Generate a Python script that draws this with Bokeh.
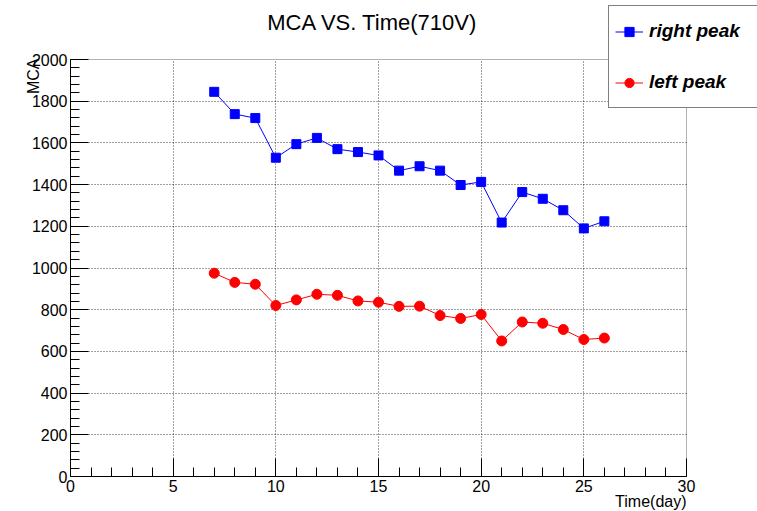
import math
from bokeh.plotting import figure
from bokeh.models import (ColumnDataSource, SingleIntervalTicker, Legend, LegendItem,
                          Label, Range1d, LinearAxis, Grid, BoxAnnotation)
from bokeh.embed import file_html
from bokeh.resources import INLINE

# ---- data ----
days = [7, 8, 9, 10, 11, 12, 13, 14, 15, 16, 17, 18, 19, 20, 21, 22, 23, 24, 25, 26]
right_peak = [1845, 1738, 1719, 1529, 1594, 1624, 1570, 1556, 1540, 1467,
              1488, 1467, 1398, 1413, 1218, 1364, 1332, 1277, 1190, 1224]
left_peak = [975, 931, 922, 820, 847, 874, 869, 842, 836, 816,
             817, 772, 758, 777, 650, 741, 735, 705, 657, 664]

x_limits = [0, 30]
y_limits = [0, 2000]
x_major_step = 5
y_major_step = 200
x_grid_ticks = [5, 10, 15, 20, 25]
y_grid_ticks = [200, 400, 600, 800, 1000, 1200, 1400, 1600, 1800]

title_text = "MCA VS. Time(710V)"
x_label = "Time(day)"
y_label = "MCA"
series_names = ["right peak", "left peak"]

FONT = "Liberation Sans"

# ---- layout (pixels) ----
W, H = 757, 511
PX0, PX1 = 70, 686      # frame left / right
PY_TOP, PY_BOT = 59, 476  # frame top / bottom

xspan = x_limits[1] - x_limits[0]
yspan = y_limits[1] - y_limits[0]
xs = x_limits[0] - PX0 * xspan / (PX1 - PX0)
xe = x_limits[1] + (W - PX1) * xspan / (PX1 - PX0)
ys = y_limits[0] - (H - PY_BOT) * yspan / (PY_BOT - PY_TOP)
ye = y_limits[1] + PY_TOP * yspan / (PY_BOT - PY_TOP)

p = figure(width=W, height=H, output_backend="svg", toolbar_location=None, title=None,
           x_axis_type=None, y_axis_type=None,
           x_range=Range1d(xs, xe), y_range=Range1d(ys, ye),
           min_border=0, min_border_left=0, min_border_right=0,
           min_border_top=0, min_border_bottom=0,
           background_fill_color="white", border_fill_color="white")
p.outline_line_color = None

xt = SingleIntervalTicker(interval=x_major_step, num_minor_ticks=5)
yt = SingleIntervalTicker(interval=y_major_step, num_minor_ticks=5)

# grid (dotted)
if "cross_bounds" in Grid.properties():
    gx = Grid(dimension=0, ticker=xt, bounds=(x_limits[0] + 1, x_limits[1] - 1),
              cross_bounds=(y_limits[0], y_limits[1]))
    gy = Grid(dimension=1, ticker=yt, bounds=(y_limits[0] + 1, y_limits[1] - 1),
              cross_bounds=(x_limits[0], x_limits[1]))
    for g in (gx, gy):
        g.grid_line_color = "black"
        g.grid_line_alpha = 0.75
        g.grid_line_dash = "1 2"
        g.grid_line_width = 1
        p.add_layout(g)
else:
    p.segment(x0=x_grid_ticks, x1=x_grid_ticks, y0=[y_limits[0]] * len(x_grid_ticks),
              y1=[y_limits[1]] * len(x_grid_ticks), line_color="black", line_alpha=0.75,
              line_dash="1 2", line_width=1)
    p.segment(x0=[x_limits[0]] * len(y_grid_ticks), x1=[x_limits[1]] * len(y_grid_ticks),
              y0=y_grid_ticks, y1=y_grid_ticks, line_color="black", line_alpha=0.75,
              line_dash="1 2", line_width=1)

# frame box
p.add_layout(BoxAnnotation(left=x_limits[0], right=x_limits[1], bottom=y_limits[0],
                           top=y_limits[1], fill_alpha=0, line_color="black",
                           line_width=1, level="underlay"))

xaxis = LinearAxis(ticker=xt, fixed_location=y_limits[0], bounds=(x_limits[0], x_limits[1]))
yaxis = LinearAxis(ticker=yt, fixed_location=x_limits[0], bounds=(y_limits[0], y_limits[1]))
for ax in (xaxis, yaxis):
    ax.major_tick_in = 18
    ax.major_tick_out = 0
    ax.minor_tick_in = 9
    ax.minor_tick_out = 0
    ax.axis_line_color = "black"
    ax.major_tick_line_color = "black"
    ax.minor_tick_line_color = "black"
    ax.major_label_text_font = FONT
    ax.major_label_text_font_size = "16px"
    ax.major_label_text_color = "black"
    ax.major_label_standoff = 3
p.add_layout(xaxis, "below")
p.add_layout(yaxis, "left")

src_r = ColumnDataSource(dict(x=days, y=right_peak))
src_l = ColumnDataSource(dict(x=days, y=left_peak))

lr = p.line('x', 'y', source=src_r, line_color="#0000ff", line_width=1)
sr = p.scatter('x', 'y', source=src_r, marker="square", size=9,
               fill_color="#0000ff", line_color="#0000ff")
ll = p.line('x', 'y', source=src_l, line_color="#ff0000", line_width=1)
sl = p.scatter('x', 'y', source=src_l, marker="circle", size=10,
               fill_color="#ff0000", line_color="#ff0000")

legend = Legend(items=[LegendItem(label=series_names[0], renderers=[lr, sr]),
                       LegendItem(label=series_names[1], renderers=[ll, sl])],
                location=(608, H - 108), orientation="vertical",
                padding=6, spacing=13, margin=0,
                glyph_width=28, glyph_height=23, label_height=38, label_width=103,
                label_standoff=6,
                label_text_font=FONT, label_text_font_size="19px",
                label_text_font_style="bold italic", label_text_color="black",
                label_text_baseline="middle",
                border_line_color="black", border_line_width=1,
                background_fill_color="white", background_fill_alpha=1.0)
p.add_layout(legend)

p.add_layout(Label(x=372, y=H - 22, x_units="screen", y_units="screen", text=title_text,
                   text_font=FONT, text_font_size="22px", text_align="center",
                   text_baseline="middle", text_color="black"))
p.add_layout(Label(x=PX1, y=H - 492, x_units="screen", y_units="screen", text=x_label,
                   text_font=FONT, text_font_size="16px", text_align="right",
                   text_baseline="top", text_color="black"))
p.add_layout(Label(x=33, y=H - 58, x_units="screen", y_units="screen", text=y_label,
                   angle=math.pi / 2, text_font=FONT, text_font_size="16px",
                   text_align="right", text_baseline="alphabetic", text_color="black"))

open("out.html", "w").write(file_html(p, INLINE))
